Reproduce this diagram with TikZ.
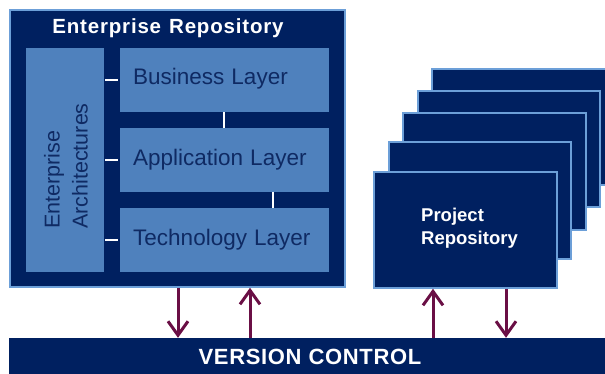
\documentclass[tikz,border=0pt]{standalone}
\usepackage{fontspec}
\setmainfont{Liberation Sans}
\usetikzlibrary{arrows.meta}
\definecolor{navy}{HTML}{002060}
\definecolor{edgeblue}{HTML}{6C9FD8}
\definecolor{layerblue}{HTML}{4F81BD}
\definecolor{layertext}{HTML}{0F2A63}
\definecolor{flow}{HTML}{6A0F45}
\tikzset{
  repo/.style={draw=edgeblue, line width=1.5pt, fill=navy, inner sep=0pt},
  layer/.style={fill=layerblue, inner sep=0pt, minimum width=209pt, minimum height=64pt},
  layerlabel/.style={text=layertext, font=\fontsize{22.5}{26}\selectfont, anchor=west, inner sep=0pt},
  link/.style={draw=white, line width=2pt},
  flowarrow/.style={draw=flow, line width=3pt, -{Straight Barb[length=14pt,width=20pt,line width=3pt]}},
  whitebold/.style={text=white, font=\bfseries}
}
\begin{document}
\begin{tikzpicture}[x=1pt,y=-1pt]
\useasboundingbox (0,0) rectangle (605,373);
\clip (0,0) rectangle (605,373);

% enterprise repository frame
\node[repo, minimum width=335pt, minimum height=277pt] (er) at (177.5,148.5) {};
\node[whitebold, font=\fontsize{20.5}{24}\bfseries\selectfont\addfontfeatures{LetterSpace=4}] (ertitle) at (168,28) {Enterprise\hspace{8pt}Repository};

% architecture column and layers
\node[fill=layerblue, inner sep=0pt, minimum width=78pt, minimum height=224pt] (ea) at (65,160) {};
\node[rotate=90, align=left, text=layertext, font=\fontsize{21.5}{28}\selectfont, inner sep=0pt] (ealabel) at (66,166) {Enterprise\\Architectures};

\node[layer] (bl) at (224.5,80) {};
\node[layer] (al) at (224.5,160) {};
\node[layer] (tl) at (224.5,240) {};
\node[layerlabel] (bltext) at (133,79) {Business\hspace{7pt}Layer};
\node[layerlabel] (altext) at (133,160) {Application\hspace{7pt}Layer};
\node[layerlabel] (tltext) at (133,240) {Technology\hspace{7pt}Layer};

\draw[link, shorten <=1pt, shorten >=2pt] (ea.east |- bl.west) -- (bl.west);
\draw[link, shorten <=1pt, shorten >=2pt] (ea.east |- al.west) -- (al.west);
\draw[link, shorten <=1pt, shorten >=2pt] (ea.east |- tl.west) -- (tl.west);
\coordinate (c1) at (224,0);
\coordinate (c2) at (273,0);
\draw[link] (c1 |- bl.south) -- (c1 |- al.north);
\draw[link] (c2 |- al.south) -- (c2 |- tl.north);

% stacked project repositories, back to front
\node[repo, minimum width=183pt, minimum height=116pt] (pr5) at (523.5,127) {};
\node[repo, minimum width=182pt, minimum height=116pt] (pr4) at (509,149) {};
\node[repo, minimum width=183pt, minimum height=117pt] (pr3) at (494.5,171.5) {};
\node[repo, minimum width=182pt, minimum height=117pt] (pr2) at (480,200.5) {};
\node[repo, minimum width=183pt, minimum height=116pt] (pr1) at (465.5,230) {};
\node[whitebold, align=left, anchor=west, inner sep=0pt, font=\fontsize{18.5}{23}\bfseries\selectfont] (prtext) at (421,228.5) {Project\\Repository};

% version control bar
\node[fill=navy, inner sep=0pt, minimum width=600pt, minimum height=36pt] (vc) at (309,356) {};
\node[whitebold, font=\fontsize{22}{26}\bfseries\selectfont\addfontfeatures{LetterSpace=3}] (vctext) at (310,357) {VERSION\hspace{7pt}CONTROL};

% check-in / check-out flows
\coordinate (a1) at (178,0);
\coordinate (a2) at (250,0);
\coordinate (a3) at (433,0);
\coordinate (a4) at (506,0);
\draw[flowarrow] (a1 |- er.south) -- (a1 |- vc.north);
\draw[flowarrow] (a2 |- vc.north) -- (a2 |- er.south);
\draw[flowarrow] (a3 |- vc.north) -- (a3 |- pr1.south);
\draw[flowarrow] (a4 |- pr1.south) -- (a4 |- vc.north);
\end{tikzpicture}
\end{document}
